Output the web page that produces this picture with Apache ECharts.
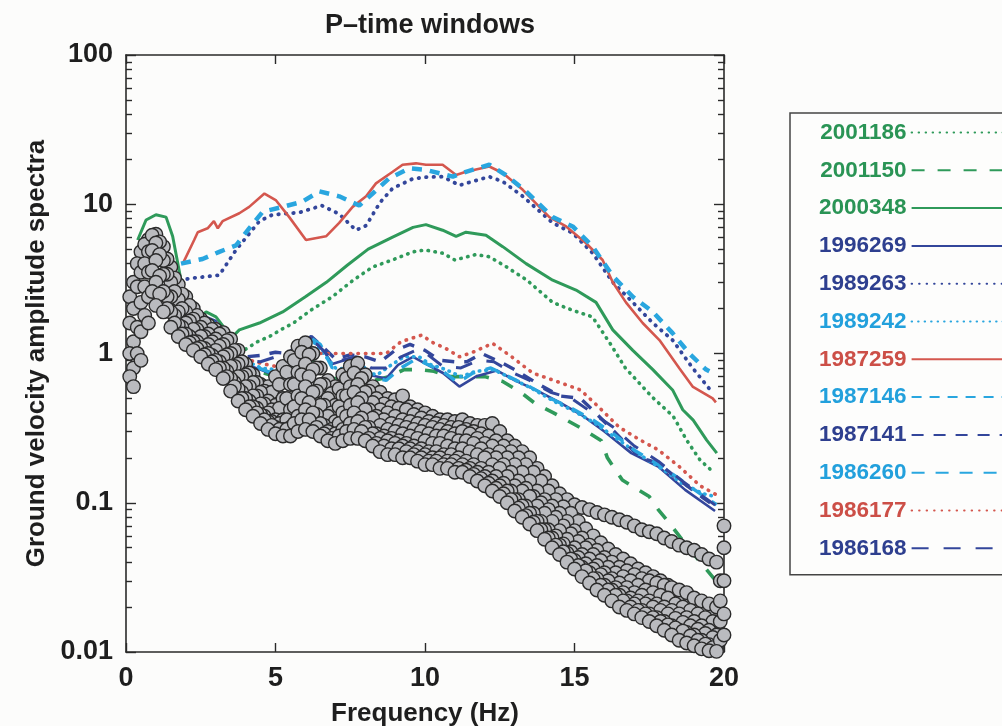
<!DOCTYPE html>
<html><head><meta charset="utf-8">
<script src="https://cdn.jsdelivr.net/npm/echarts@6/dist/echarts.min.js"></script>
<style>html,body{margin:0;padding:0;background:#fcfcfb}#c{width:1002px;height:726px}</style>
</head><body><div id="c"></div><script>
// ---------- DATA ----------
const titleText = 'P–time windows';
const xName = 'Frequency (Hz)';
const yName = 'Ground velocity amplitude spectra';
const xTicks = [0, 5, 10, 15, 20];
const yMajorTicks = [0.01, 0.1, 1, 10, 100];
const yTickLabels = ['0.01', '0.1', '1', '10', '100'];
const yMinorTicks = [0.02,0.03,0.04,0.05,0.06,0.07,0.08,0.09,0.2,0.3,0.4,0.5,0.6,0.7,0.8,0.9,2,3,4,5,6,7,8,9,20,30,40,50,60,70,80,90];

const legendNames = ['2001186','2001150','2000348','1996269','1989263','1989242','1987259','1987146','1987141','1986260','1986177','1986168'];

// spectra: [frequency (Hz), amplitude]
const s2001186 = [[4.0,1.07],[4.4,1.2],[4.8,1.3],[5.2,1.45],[5.6,1.6],[6.2,1.96],[6.9,2.4],[7.6,3.1],[8.25,3.8],[8.9,4.23],[9.6,4.8],[10.0,4.94],[10.6,4.7],[11.0,4.23],[11.7,4.6],[12.15,4.45],[12.7,3.83],[13.4,3.11],[14.27,2.2],[14.9,1.96],[15.6,1.76],[16.2,1.16],[16.7,0.8],[17.6,0.51],[18.3,0.38],[18.75,0.263],[19.2,0.193],[19.65,0.16]];
const s2001150 = [[2.0,2.0],[2.5,1.7],[3.0,1.55],[3.5,1.1],[4.0,0.85],[4.5,0.75],[5.0,0.7],[5.5,0.82],[6.0,0.95],[6.4,0.85],[6.8,0.68],[7.3,0.68],[7.8,0.75],[8.3,0.66],[8.8,0.7],[9.3,0.78],[9.8,0.78],[10.3,0.76],[10.8,0.7],[11.4,0.7],[12.0,0.7],[12.6,0.65],[13.2,0.55],[13.7,0.46],[14.3,0.4],[15.3,0.31],[15.9,0.26],[16.1,0.2],[16.6,0.142],[17.5,0.11],[17.8,0.09],[18.2,0.072],[18.8,0.05],[19.4,0.036],[19.85,0.028]];
const s2000348 = [[0.39,5.76],[0.67,7.84],[1.0,8.5],[1.34,8.2],[1.56,6.1],[1.84,3.1],[2.06,1.86],[2.34,1.68],[2.68,1.9],[3.01,1.76],[3.34,1.44],[3.57,1.3],[3.79,1.44],[4.46,1.6],[5.24,1.9],[6.0,2.4],[6.7,3.0],[7.4,3.9],[8.1,5.0],[8.9,6.0],[9.6,7.0],[10.03,7.3],[10.59,6.7],[11.04,6.1],[11.37,6.5],[12.04,6.2],[12.6,5.2],[13.38,4.0],[14.27,3.1],[15.05,2.66],[15.72,2.2],[16.28,1.44],[16.95,1.05],[17.62,0.78],[18.28,0.57],[18.62,0.42],[18.97,0.358],[19.42,0.263],[19.76,0.215]];
const s1996269 = [[1.8,3.0],[2.0,2.0],[2.3,1.7],[2.7,1.75],[3.0,1.65],[3.4,1.3],[3.7,1.0],[4.2,0.82],[4.8,0.74],[5.2,0.72],[5.5,0.9],[5.8,1.15],[6.2,1.25],[6.6,1.05],[6.9,0.85],[7.3,0.9],[7.8,0.92],[8.1,0.72],[8.7,0.68],[9.1,0.84],[9.6,0.95],[10.0,0.86],[10.6,0.74],[11.15,0.6],[11.7,0.7],[12.4,0.77],[13.0,0.66],[13.7,0.57],[14.5,0.47],[15.3,0.38],[16.0,0.3],[16.9,0.215],[17.8,0.175],[18.7,0.122],[19.7,0.088]];
const s1989263 = [[1.8,3.1],[2.23,3.2],[3.12,3.35],[3.68,4.94],[4.46,7.7],[4.9,8.5],[5.8,8.8],[6.55,9.8],[7.13,8.6],[7.69,6.7],[8.03,7.2],[8.5,10.3],[8.92,12.8],[9.59,14.8],[10.03,15.2],[10.59,15.3],[11.15,13.4],[12.15,15.3],[12.6,14.2],[13.27,11.3],[14.27,7.5],[14.94,6.4],[15.61,4.7],[16.28,3.0],[16.95,2.2],[17.62,1.6],[18.28,1.23],[18.95,0.8],[19.51,0.58]];
const s1989242 = [[2.0,2.1],[2.5,1.75],[3.0,1.6],[3.5,1.2],[4.0,0.9],[4.5,0.8],[5.0,0.78],[5.4,0.9],[5.8,1.2],[6.2,1.25],[6.6,1.0],[7.0,0.8],[7.5,0.78],[8.0,0.75],[8.4,0.72],[8.8,0.82],[9.3,0.95],[9.8,0.95],[10.2,0.84],[10.7,0.78],[11.2,0.7],[11.7,0.76],[12.3,0.78],[12.9,0.68],[13.6,0.58],[14.3,0.48],[15.0,0.41],[15.7,0.34],[16.4,0.27],[17.1,0.215],[17.9,0.17],[18.6,0.135],[19.3,0.115],[19.7,0.11]];
const s1987259 = [[1.9,4.0],[2.28,5.76],[2.4,6.5],[2.73,6.9],[2.94,7.7],[3.07,6.9],[3.23,7.7],[3.79,8.7],[4.12,9.6],[4.63,11.8],[5.02,10.6],[5.46,8.2],[6.02,5.76],[6.69,6.1],[7.13,7.5],[7.58,9.6],[8.03,11.3],[8.36,13.8],[8.92,16.5],[9.25,18.4],[9.7,18.8],[10.03,18.4],[10.59,18.4],[11.04,15.7],[11.37,16.5],[12.15,17.9],[12.6,16.2],[13.27,12.5],[14.16,8.2],[14.72,7.1],[15.38,5.5],[15.94,4.23],[16.28,3.0],[16.72,2.2],[17.28,1.6],[17.84,1.23],[18.5,0.8],[18.95,0.6],[19.62,0.5],[19.73,0.47]];
const s1987146 = [[1.84,4.0],[2.56,4.3],[3.12,4.8],[3.68,5.3],[4.12,6.9],[4.57,8.9],[5.24,9.6],[5.9,10.4],[6.47,12.2],[7.13,11.3],[7.8,9.8],[8.25,11.8],[8.8,14.9],[9.48,17.4],[10.03,17.0],[10.93,15.3],[11.37,16.5],[12.15,18.4],[12.7,15.7],[13.38,12.2],[14.27,8.2],[14.94,7.1],[15.61,5.2],[16.28,3.3],[16.95,2.4],[17.62,1.9],[18.28,1.37],[18.84,1.0],[19.4,0.78],[19.51,0.76]];
const s1987141 = [[2.0,2.4],[2.5,1.8],[3.0,1.6],[3.5,1.2],[4.0,0.95],[4.5,0.97],[5.0,1.02],[5.4,1.0],[5.8,1.15],[6.2,1.3],[6.6,1.1],[7.0,0.92],[7.5,0.98],[8.0,0.95],[8.5,0.88],[9.0,1.05],[9.5,1.15],[10.0,1.05],[10.5,0.9],[11.0,0.88],[11.4,0.88],[11.9,1.0],[12.6,0.86],[13.0,0.78],[13.7,0.64],[14.5,0.52],[15.2,0.5],[15.6,0.42],[16.4,0.29],[17.2,0.2],[17.8,0.185],[18.5,0.142],[19.3,0.108],[19.75,0.093]];
const s1986260 = [[2.0,2.0],[2.5,1.7],[3.0,1.55],[3.5,1.15],[3.8,0.95],[4.3,0.82],[4.8,0.75],[5.3,0.8],[5.7,1.1],[6.1,1.3],[6.5,1.15],[6.9,0.8],[7.4,0.85],[7.8,0.9],[8.2,0.7],[8.7,0.66],[9.2,0.8],[9.7,0.92],[10.0,0.86],[10.6,0.76],[11.1,0.64],[11.6,0.74],[12.2,0.8],[12.8,0.7],[13.5,0.6],[14.2,0.5],[14.9,0.43],[15.6,0.36],[16.3,0.29],[17.0,0.225],[17.8,0.18],[18.5,0.145],[19.2,0.115],[19.75,0.097]];
const s1986177 = [[2.0,2.2],[2.5,1.8],[3.0,1.6],[3.5,1.2],[4.0,0.92],[4.5,0.86],[5.0,0.82],[5.5,0.85],[6.0,1.05],[6.4,1.0],[7.0,1.0],[7.5,1.0],[8.0,1.0],[8.7,1.0],[9.2,1.2],[9.9,1.33],[10.2,1.2],[10.7,1.08],[11.15,0.95],[11.6,1.02],[12.26,1.17],[12.9,0.95],[13.6,0.74],[14.5,0.64],[15.2,0.57],[15.8,0.44],[16.5,0.32],[17.2,0.263],[17.8,0.226],[18.5,0.175],[19.2,0.13],[19.75,0.113]];
const s1986168 = [[2.0,2.2],[2.5,1.75],[3.0,1.55],[3.5,1.15],[4.0,0.9],[4.5,0.88],[5.0,0.95],[5.5,1.0],[6.0,1.2],[6.4,1.15],[6.8,0.95],[7.2,0.9],[7.7,0.95],[8.2,0.8],[8.7,0.8],[9.2,0.95],[9.7,1.05],[10.1,0.98],[10.6,0.82],[11.2,0.8],[11.8,0.9],[12.3,0.88],[12.9,0.75],[13.5,0.66],[14.2,0.55],[14.9,0.5],[15.6,0.4],[16.3,0.32],[17.0,0.24],[17.8,0.19],[18.6,0.14],[19.3,0.11],[19.75,0.095]];

// noise spectra (grey circles), two sampling grids
const noiseFreq = [0.25,0.5,0.75,1,1.25,1.5,1.75,2,2.25,2.5,2.75,3,3.25,3.5,3.75,4,4.25,4.5,4.75,5,
5.25,5.5,5.75,6,6.25,6.5,6.75,7,7.25,7.5,7.75,8,8.25,8.5,8.75,9,9.25,9.5,9.75,10,
10.25,10.5,10.75,11,11.25,11.5,11.75,12,12.25,12.5,12.75,13,13.25,13.5,13.75,14,14.25,14.5,14.75,15,
15.25,15.5,15.75,16,16.25,16.5,16.75,17,17.25,17.5,17.75,18,18.25,18.5,18.75,19,19.25,19.5,19.75,20];
const noiseFreq2 = [0.125,0.375,0.625,0.875,1.125,1.375,1.625,1.875,2.125,2.375,2.625,2.875,3.125,3.375,3.625,3.875,4.125,4.375,4.625,4.875,
5.125,5.375,5.625,5.875,6.125,6.375,6.625,6.875,7.125,7.375,7.625,7.875,8.125,8.375,8.625,8.875,9.125,9.375,9.625,9.875,
10.125,10.375,10.625,10.875,11.125,11.375,11.625,11.875,12.125,12.375,12.625,12.875,13.125,13.375,13.625,13.875,14.125,14.375,14.625,14.875,
15.125,15.375,15.625,15.875,16.125,16.375,16.625,16.875,17.125,17.375,17.625,17.875,18.125,18.375,18.625,18.875,19.125,19.375,19.625,19.875];
const noiseA = [3.0,4.8,5.8,6.3,5.2,3.8,2.9,2.4,2.0,1.7,
1.55,1.45,1.38,1.25,1.05,0.85,0.72,0.62,0.6,0.7,
0.82,0.95,1.12,1.18,1.0,0.8,0.66,0.6,0.72,0.82,
0.86,0.72,0.6,0.55,0.5,0.49,0.52,0.44,0.42,0.4,
0.38,0.36,0.36,0.35,0.36,0.34,0.33,0.33,0.34,0.3,
0.26,0.24,0.22,0.2,0.17,0.15,0.13,0.115,0.105,0.097,
0.093,0.09,0.086,0.083,0.08,0.077,0.074,0.07,0.066,0.064,
0.062,0.058,0.055,0.052,0.05,0.048,0.045,0.042,0.04,0.07];
const noiseB = [2.0,3.5,4.8,5.5,4.2,3.0,2.3,1.9,1.7,1.5,
1.35,1.25,1.15,1.0,0.85,0.72,0.64,0.55,0.48,0.45,
0.5,0.62,0.75,0.85,0.78,0.62,0.5,0.45,0.52,0.6,
0.62,0.55,0.47,0.42,0.4,0.38,0.36,0.35,0.34,0.33,
0.32,0.31,0.3,0.29,0.3,0.29,0.27,0.25,0.24,0.22,
0.2,0.18,0.16,0.14,0.12,0.105,0.095,0.085,0.075,0.065,
0.058,0.052,0.048,0.043,0.04,0.037,0.035,0.033,0.031,0.03,
0.029,0.028,0.027,0.026,0.025,0.023,0.022,0.021,0.02,0.05];
const noiseC = [1.2,2.2,3.5,4.2,3.4,2.4,1.9,1.6,1.45,1.3,
1.15,1.05,0.95,0.82,0.7,0.6,0.52,0.46,0.4,0.36,
0.36,0.42,0.52,0.6,0.55,0.45,0.38,0.35,0.4,0.45,
0.47,0.42,0.37,0.33,0.31,0.3,0.29,0.28,0.27,0.26,
0.25,0.25,0.24,0.23,0.23,0.22,0.21,0.2,0.18,0.17,
0.15,0.13,0.12,0.11,0.095,0.085,0.075,0.065,0.057,0.05,
0.045,0.042,0.038,0.034,0.031,0.029,0.027,0.025,0.024,0.022,
0.021,0.02,0.019,0.018,0.017,0.016,0.015,0.014,0.013,0.03];
const noiseD = [0.8,1.4,2.4,3.0,2.6,1.9,1.55,1.35,1.2,1.1,
1.0,0.9,0.8,0.68,0.58,0.5,0.44,0.39,0.35,0.32,
0.31,0.32,0.38,0.42,0.4,0.34,0.3,0.29,0.31,0.34,
0.35,0.32,0.29,0.27,0.26,0.25,0.24,0.23,0.22,0.21,
0.2,0.2,0.19,0.19,0.18,0.17,0.16,0.15,0.14,0.13,
0.12,0.105,0.095,0.085,0.075,0.066,0.058,0.052,0.046,0.041,
0.037,0.034,0.031,0.028,0.026,0.024,0.022,0.021,0.019,0.018,
0.017,0.016,0.015,0.014,0.0135,0.013,0.012,0.0112,0.0105,0.018];
const noiseE = [0.6,0.9,1.6,2.1,1.9,1.5,1.3,1.15,1.05,0.95,
0.85,0.78,0.68,0.56,0.48,0.42,0.38,0.34,0.31,0.29,
0.28,0.28,0.3,0.31,0.3,0.28,0.26,0.25,0.26,0.27,
0.27,0.26,0.24,0.22,0.21,0.21,0.2,0.2,0.19,0.18,
0.18,0.17,0.17,0.16,0.16,0.15,0.14,0.13,0.12,0.11,
0.1,0.088,0.08,0.072,0.065,0.057,0.05,0.045,0.04,0.036,
0.032,0.029,0.026,0.024,0.022,0.02,0.019,0.018,0.017,0.016,
0.015,0.014,0.013,0.012,0.0115,0.011,0.0105,0.0102,0.0101,0.013];
const noiseF = [2.4,4.0,5.4,6.2,5.6,4.3,3.2,2.5,2.1,1.8,
1.6,1.45,1.35,1.22,1.05,0.88,0.74,0.64,0.56,0.55,
0.62,0.75,0.9,1.02,0.98,0.8,0.62,0.54,0.58,0.68,
0.74,0.68,0.56,0.5,0.46,0.44,0.43,0.42,0.39,0.37,
0.35,0.34,0.33,0.32,0.32,0.31,0.3,0.29,0.28,0.26,
0.24,0.22,0.2,0.18,0.16,0.14,0.12,0.105,0.094,0.085,
0.075,0.067,0.06,0.054,0.049,0.045,0.042,0.039,0.036,0.034,
0.032,0.03,0.028,0.026,0.024,0.022,0.02,0.019,0.018,0.03];
const noiseG = [0.7,1.0,1.8,2.6,2.5,2.0,1.6,1.35,1.18,1.08,
0.98,0.88,0.8,0.7,0.6,0.5,0.44,0.4,0.36,0.33,
0.31,0.31,0.34,0.36,0.36,0.32,0.29,0.27,0.28,0.3,
0.31,0.3,0.27,0.25,0.24,0.23,0.23,0.22,0.21,0.2,
0.19,0.19,0.18,0.18,0.17,0.165,0.155,0.145,0.135,0.125,
0.115,0.105,0.092,0.082,0.074,0.066,0.058,0.052,0.047,0.042,
0.038,0.035,0.031,0.028,0.026,0.024,0.022,0.02,0.019,0.018,
0.017,0.016,0.0152,0.0145,0.0138,0.0128,0.012,0.0113,0.0107,0.012];
const noiseH = [1.6,2.8,4.0,4.9,4.6,3.4,2.6,2.0,1.65,1.45,
1.3,1.2,1.12,0.98,0.82,0.7,0.6,0.52,0.46,0.42,
0.43,0.5,0.62,0.72,0.7,0.56,0.45,0.4,0.44,0.52,
0.55,0.5,0.42,0.38,0.36,0.34,0.33,0.32,0.31,0.3,
0.29,0.28,0.28,0.27,0.26,0.26,0.25,0.23,0.21,0.2,
0.18,0.16,0.14,0.125,0.11,0.1,0.09,0.08,0.07,0.062,
0.055,0.05,0.045,0.041,0.037,0.034,0.032,0.03,0.028,0.026,
0.025,0.024,0.023,0.021,0.02,0.019,0.018,0.017,0.016,0.022];
const noiseI = [1.0,1.5,2.8,3.6,3.3,2.4,1.8,1.5,1.3,1.2,
1.08,0.97,0.88,0.76,0.64,0.55,0.48,0.43,0.38,0.35,
0.34,0.36,0.44,0.5,0.47,0.39,0.33,0.31,0.34,0.38,
0.4,0.37,0.32,0.29,0.28,0.27,0.26,0.25,0.24,0.23,
0.22,0.22,0.21,0.21,0.2,0.19,0.18,0.17,0.16,0.15,
0.135,0.12,0.105,0.095,0.085,0.075,0.066,0.06,0.053,0.047,
0.043,0.039,0.036,0.033,0.03,0.027,0.025,0.023,0.022,0.021,
0.02,0.019,0.018,0.0168,0.0158,0.015,0.0142,0.0133,0.0125,0.016];

// ---------- STYLE ----------
const FONT = '"Liberation Sans", Arial, Helvetica, sans-serif';
const GREEN = '#2f9a5a', DBLUE = '#33469b', LBLUE = '#29a6df', RED = '#d4574e';
const TXT = {};
TXT[GREEN] = '#2a9455'; TXT[DBLUE] = '#2e3f8f'; TXT[LBLUE] = '#22a0dc'; TXT[RED] = '#cc4f47';
const AX = '#2a2a2a';
const lineSpec = {
  '2001186': {data: s2001186, color: GREEN, width: 3.6, type: [0.5, 6.5], cap: 'round'},
  '2001150': {data: s2001150, color: GREEN, width: 3.6, type: [13, 13], cap: 'butt'},
  '2000348': {data: s2000348, color: GREEN, width: 3, type: 'solid', cap: 'butt'},
  '1996269': {data: s1996269, color: DBLUE, width: 2.6, type: 'solid', cap: 'butt'},
  '1989263': {data: s1989263, color: DBLUE, width: 3.8, type: [0.5, 7], cap: 'round'},
  '1989242': {data: s1989242, color: LBLUE, width: 3.6, type: [0.5, 6], cap: 'round'},
  '1987259': {data: s1987259, color: RED, width: 2.6, type: 'solid', cap: 'butt'},
  '1987146': {data: s1987146, color: LBLUE, width: 4.5, type: [10, 8], cap: 'butt'},
  '1987141': {data: s1987141, color: DBLUE, width: 3.4, type: [12, 10], cap: 'butt'},
  '1986260': {data: s1986260, color: LBLUE, width: 3.4, type: [13, 11], cap: 'butt'},
  '1986177': {data: s1986177, color: RED, width: 3.6, type: [0.5, 7], cap: 'round'},
  '1986168': {data: s1986168, color: DBLUE, width: 3, type: [17, 15], cap: 'butt'}
};

const series = legendNames.map(name => {
  const sp = lineSpec[name];
  return {
    name, type: 'line', data: sp.data, symbol: 'none', showSymbol: false,
    xAxisIndex: 0, yAxisIndex: 0, z: 2, clip: true, animation: false,
    lineStyle: {color: sp.color, width: sp.width, type: sp.type, cap: sp.cap},
    itemStyle: {color: sp.color}
  };
});
[[noiseFreq, noiseA], [noiseFreq2, noiseF], [noiseFreq, noiseB], [noiseFreq2, noiseH],
 [noiseFreq, noiseC], [noiseFreq2, noiseI], [noiseFreq, noiseD], [noiseFreq2, noiseG],
 [noiseFreq, noiseE]].forEach((pair, k) => {
  const fr = pair[0], arr = pair[1];
  series.push({
    name: 'noise' + k, type: 'scatter', xAxisIndex: 0, yAxisIndex: 0, z: 4, animation: false,
    data: fr.map((f, i) => [f, arr[i]]),
    symbol: 'circle', symbolSize: 13.5,
    itemStyle: {color: '#babbbf', borderColor: '#2b2b2b', borderWidth: 1.4, opacity: 1}
  });
});

const tickFont = {fontFamily: FONT, fontWeight: 'bold', fontSize: 27, color: '#1e1e1e'};
const nameFont = {fontFamily: FONT, fontWeight: 'bold', fontSize: 26, color: '#1e1e1e'};
const axLine = {show: true, onZero: false, lineStyle: {color: AX, width: 1.6}};
function yAx(grid, pos, ticks, len, labels, line) {
  return {
    gridIndex: grid, type: 'log', logBase: 10, min: 0.01, max: 100, position: pos, offset: 0,
    axisLine: line ? axLine : {show: false},
    axisTick: {show: true, inside: true, length: len, customValues: ticks, lineStyle: {color: AX, width: 1.4}},
    axisLabel: labels ? Object.assign({show: true, margin: 13, customValues: yMajorTicks,
      formatter: v => yTickLabels[Math.round(Math.log10(v)) + 2]}, tickFont) : {show: false},
    splitLine: {show: false}, minorTick: {show: false}
  };
}
const yAxes = [yAx(0, 'left', yMajorTicks, 10, true, true), yAx(0, 'right', yMajorTicks, 10, false, true),
               yAx(1, 'left', yMinorTicks, 6, false, false), yAx(1, 'right', yMinorTicks, 6, false, false)];
Object.assign(yAxes[0], {name: yName, nameLocation: 'middle', nameGap: 70, nameRotate: 90, nameTextStyle: nameFont});

const gridRect = {left: 126, right: 278, top: 55, bottom: 74, containLabel: false, outerBoundsMode: 'none'};
const option = {
  backgroundColor: '#fcfcfb',
  animation: false,
  textStyle: {fontFamily: FONT},
  title: {text: titleText, left: 425, top: 7, textAlign: 'center',
    textStyle: {fontFamily: FONT, fontWeight: 'bold', fontSize: 27, color: '#1e1e1e'}},
  grid: [Object.assign({}, gridRect), Object.assign({}, gridRect)],
  xAxis: [
    {gridIndex: 0, type: 'value', min: 0, max: 20, interval: 5, position: 'bottom',
     name: xName, nameLocation: 'middle', nameGap: 49, nameTextStyle: nameFont,
     axisLine: axLine, axisTick: {inside: true, length: 9, customValues: xTicks, lineStyle: {color: AX, width: 1.4}},
     axisLabel: Object.assign({margin: 13, customValues: xTicks}, tickFont), splitLine: {show: false}},
    {gridIndex: 0, type: 'value', min: 0, max: 20, interval: 5, position: 'top',
     axisLine: axLine, axisTick: {inside: true, length: 9, lineStyle: {color: AX, width: 1.4}},
     axisLabel: {show: false}, splitLine: {show: false}},
    {gridIndex: 1, type: 'value', min: 0, max: 20, interval: 5, show: false}
  ],
  yAxis: yAxes,
  legend: {
    orient: 'vertical', left: 790, top: 113, align: 'right',
    data: legendNames.map(n => ({name: n, textStyle: {color: TXT[lineSpec[n].color]}})),
    itemWidth: 100, itemHeight: 14, itemGap: 14.8,
    itemStyle: {opacity: 0},
    padding: [8, 12, 15, 29],
    borderColor: '#444', borderWidth: 1.5, backgroundColor: '#fdfdfc',
    selectedMode: false,
    textStyle: {fontFamily: FONT, fontWeight: 'bold', fontSize: 22.5, lineHeight: 22}
  },
  series
};
const chart = echarts.init(document.getElementById('c'));
chart.setOption(option);
</script></body></html>
